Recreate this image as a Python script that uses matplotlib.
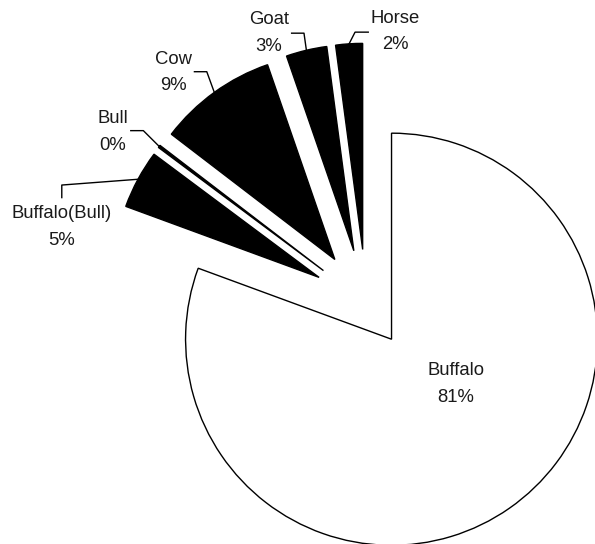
import numpy as np
import matplotlib
matplotlib.use('Agg')
import matplotlib.pyplot as plt

plt.rcParams['font.family'] = ['Liberation Sans', 'DejaVu Sans']

# доли по видам животных, %
animals = ['Buffalo', 'Buffalo(Bull)', 'Bull', 'Cow', 'Goat', 'Horse']
shares = [80.6, 4.6, 0.2, 9.3, 3.2, 2.1]

colors = ['white', 'black', 'black', 'black', 'black', 'black']
explode = [0.215, 0.26, 0.26, 0.26, 0.26, 0.26]

# где стоят подписи и изломы выносных линий (в единицах радиуса)
label_pos = [(0.437, -0.394), (-1.479, 0.370), (-1.232, 0.831),
             (-0.936, 1.118), (-0.473, 1.309), (0.140, 1.317)]
leader_pts = [None,
              [(-1.478, 0.572), (-1.478, 0.511)],
              [(-1.082, 0.836), (-1.143, 0.836)],
              [(-0.774, 1.122), (-0.834, 1.122)],
              [(-0.302, 1.309), (-0.362, 1.309)],
              [(-0.054, 1.314), (0.010, 1.314)]]

fig = plt.figure(figsize=(5.95, 5.44), dpi=100)
ax = fig.add_axes([0, 0, 1, 1])

wedges, _ = ax.pie(shares, colors=colors, explode=explode, startangle=90,
                   counterclock=False, radius=1.0,
                   wedgeprops=dict(edgecolor='black', linewidth=1.0))

total = sum(shares)
for i, w in enumerate(wedges):
    pct = shares[i] / total * 100
    x, y = label_pos[i]
    ax.text(x, y, f'{animals[i]}\n{pct:.0f}%', ha='center', va='center',
            fontsize=13.3, linespacing=1.75, color='#1a1a1a')
    if leader_pts[i] is None:
        continue
    # линия начинается с середины дуги сектора
    mid = np.deg2rad((w.theta1 + w.theta2) / 2)
    cx, cy = w.center
    start = (cx + w.r * np.cos(mid), cy + w.r * np.sin(mid))
    pts = [start] + leader_pts[i]
    ax.plot([p[0] for p in pts], [p[1] for p in pts], color='black', lw=1.0)

ax.set_xlim(-1.778, 1.111)
ax.set_ylim(-1.170, 1.470)
ax.set_aspect('auto')
ax.axis('off')

fig.savefig('out.png', dpi=100, facecolor='white')
